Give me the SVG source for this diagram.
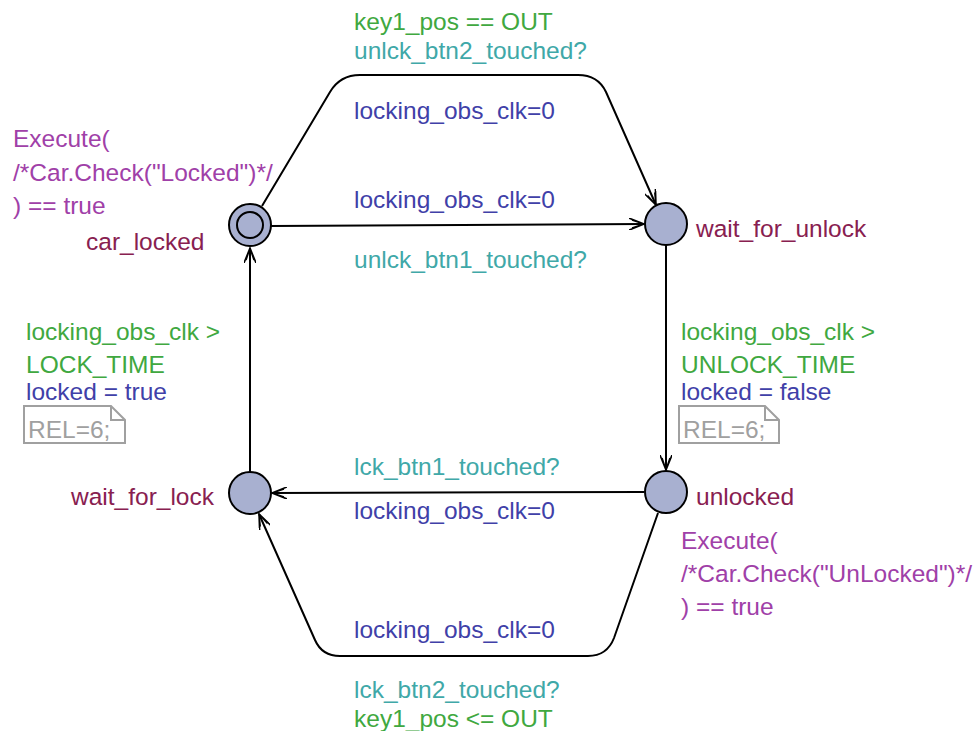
<svg xmlns="http://www.w3.org/2000/svg" width="976" height="731" viewBox="0 0 976 731">
<style>
text{font-family:"Liberation Sans",Arial,sans-serif;font-size:24.5px}
.g{fill:#40a840}.s{fill:#40a8a8}.a{fill:#4040a8}.i{fill:#a040a8}.n{fill:#882050}.r{fill:#a0a0a0}
.loc{fill:#a8b0d0;stroke:#000;stroke-width:2}
.e{fill:none;stroke:#000;stroke-width:2;marker-end:url(#arr)}
.note{fill:#fff;stroke:#a0a0a0;stroke-width:2}
</style>
<defs>
<marker id="arr" viewBox="0 0 16 12" refX="15" refY="6" markerWidth="16" markerHeight="12" markerUnits="userSpaceOnUse" orient="auto">
<path d="M0,0 L15,6 L0,12 M3,2 L15,6 L3,10" fill="none" stroke="#000" stroke-width="1.6"/>
</marker>
</defs>
<rect width="976" height="731" fill="#fff"/>
<g id="connectors">
<path class="e" d="M262,206 L330,92 Q340,75 360,75 L578,75 Q598,75 606,92 L656,205"/>
<path class="e" d="M271,226 L644,224"/>
<path class="e" d="M666,245 L666,470"/>
<path class="e" d="M644,492 L272,493"/>
<path class="e" d="M658,513 L614,638 Q607,656 588,656 L340,656 Q322,656 315,640 L259,514"/>
<path class="e" d="M250,472 L250,248"/>
</g>
<g id="car_locked">
<circle class="loc" cx="250" cy="225" r="21"/>
<circle fill="none" stroke="#000" stroke-width="2" cx="250" cy="225" r="13"/>
<text class="n" x="86" y="250">car_locked</text>
<text class="i" x="13" y="147">Execute(</text>
<text class="i" x="13" y="181">/*Car.Check("Locked")*/</text>
<text class="i" x="13" y="214">) == true</text>
</g>
<g id="wait_for_unlock">
<circle class="loc" cx="666" cy="224" r="21"/>
<text class="n" x="696" y="237">wait_for_unlock</text>
</g>
<g id="unlocked">
<circle class="loc" cx="666" cy="492" r="21"/>
<text class="n" x="696" y="505">unlocked</text>
<text class="i" x="681" y="549">Execute(</text>
<text class="i" x="681" y="582">/*Car.Check("UnLocked")*/</text>
<text class="i" x="681" y="615">) == true</text>
</g>
<g id="wait_for_lock">
<circle class="loc" cx="250" cy="493" r="21"/>
<text class="n" x="71" y="505">wait_for_lock</text>
</g>
<g id="labels">
<text class="g" x="354" y="30">key1_pos == OUT</text>
<text class="s" x="354" y="59">unlck_btn2_touched?</text>
<text class="a" x="354" y="119">locking_obs_clk=0</text>
<text class="a" x="354" y="208">locking_obs_clk=0</text>
<text class="s" x="354" y="268">unlck_btn1_touched?</text>
<text class="g" x="681" y="340">locking_obs_clk &gt;</text>
<text class="g" x="681" y="373">UNLOCK_TIME</text>
<text class="a" x="681" y="400">locked = false</text>
<path class="note" d="M679,406 L765,406 L779,420 L779,443 L679,443 Z M765,406 L765,420 L779,420"/>
<text class="r" x="683" y="438">REL=6;</text>
<text class="g" x="26" y="340">locking_obs_clk &gt;</text>
<text class="g" x="26" y="373">LOCK_TIME</text>
<text class="a" x="26" y="400">locked = true</text>
<path class="note" d="M24,406 L111,406 L125,420 L125,443 L24,443 Z M111,406 L111,420 L125,420"/>
<text class="r" x="28" y="438">REL=6;</text>
<text class="s" x="354" y="475">lck_btn1_touched?</text>
<text class="a" x="354" y="519">locking_obs_clk=0</text>
<text class="a" x="354" y="638">locking_obs_clk=0</text>
<text class="s" x="354" y="698">lck_btn2_touched?</text>
<text class="g" x="354" y="727">key1_pos &lt;= OUT</text>
</g>
</svg>
